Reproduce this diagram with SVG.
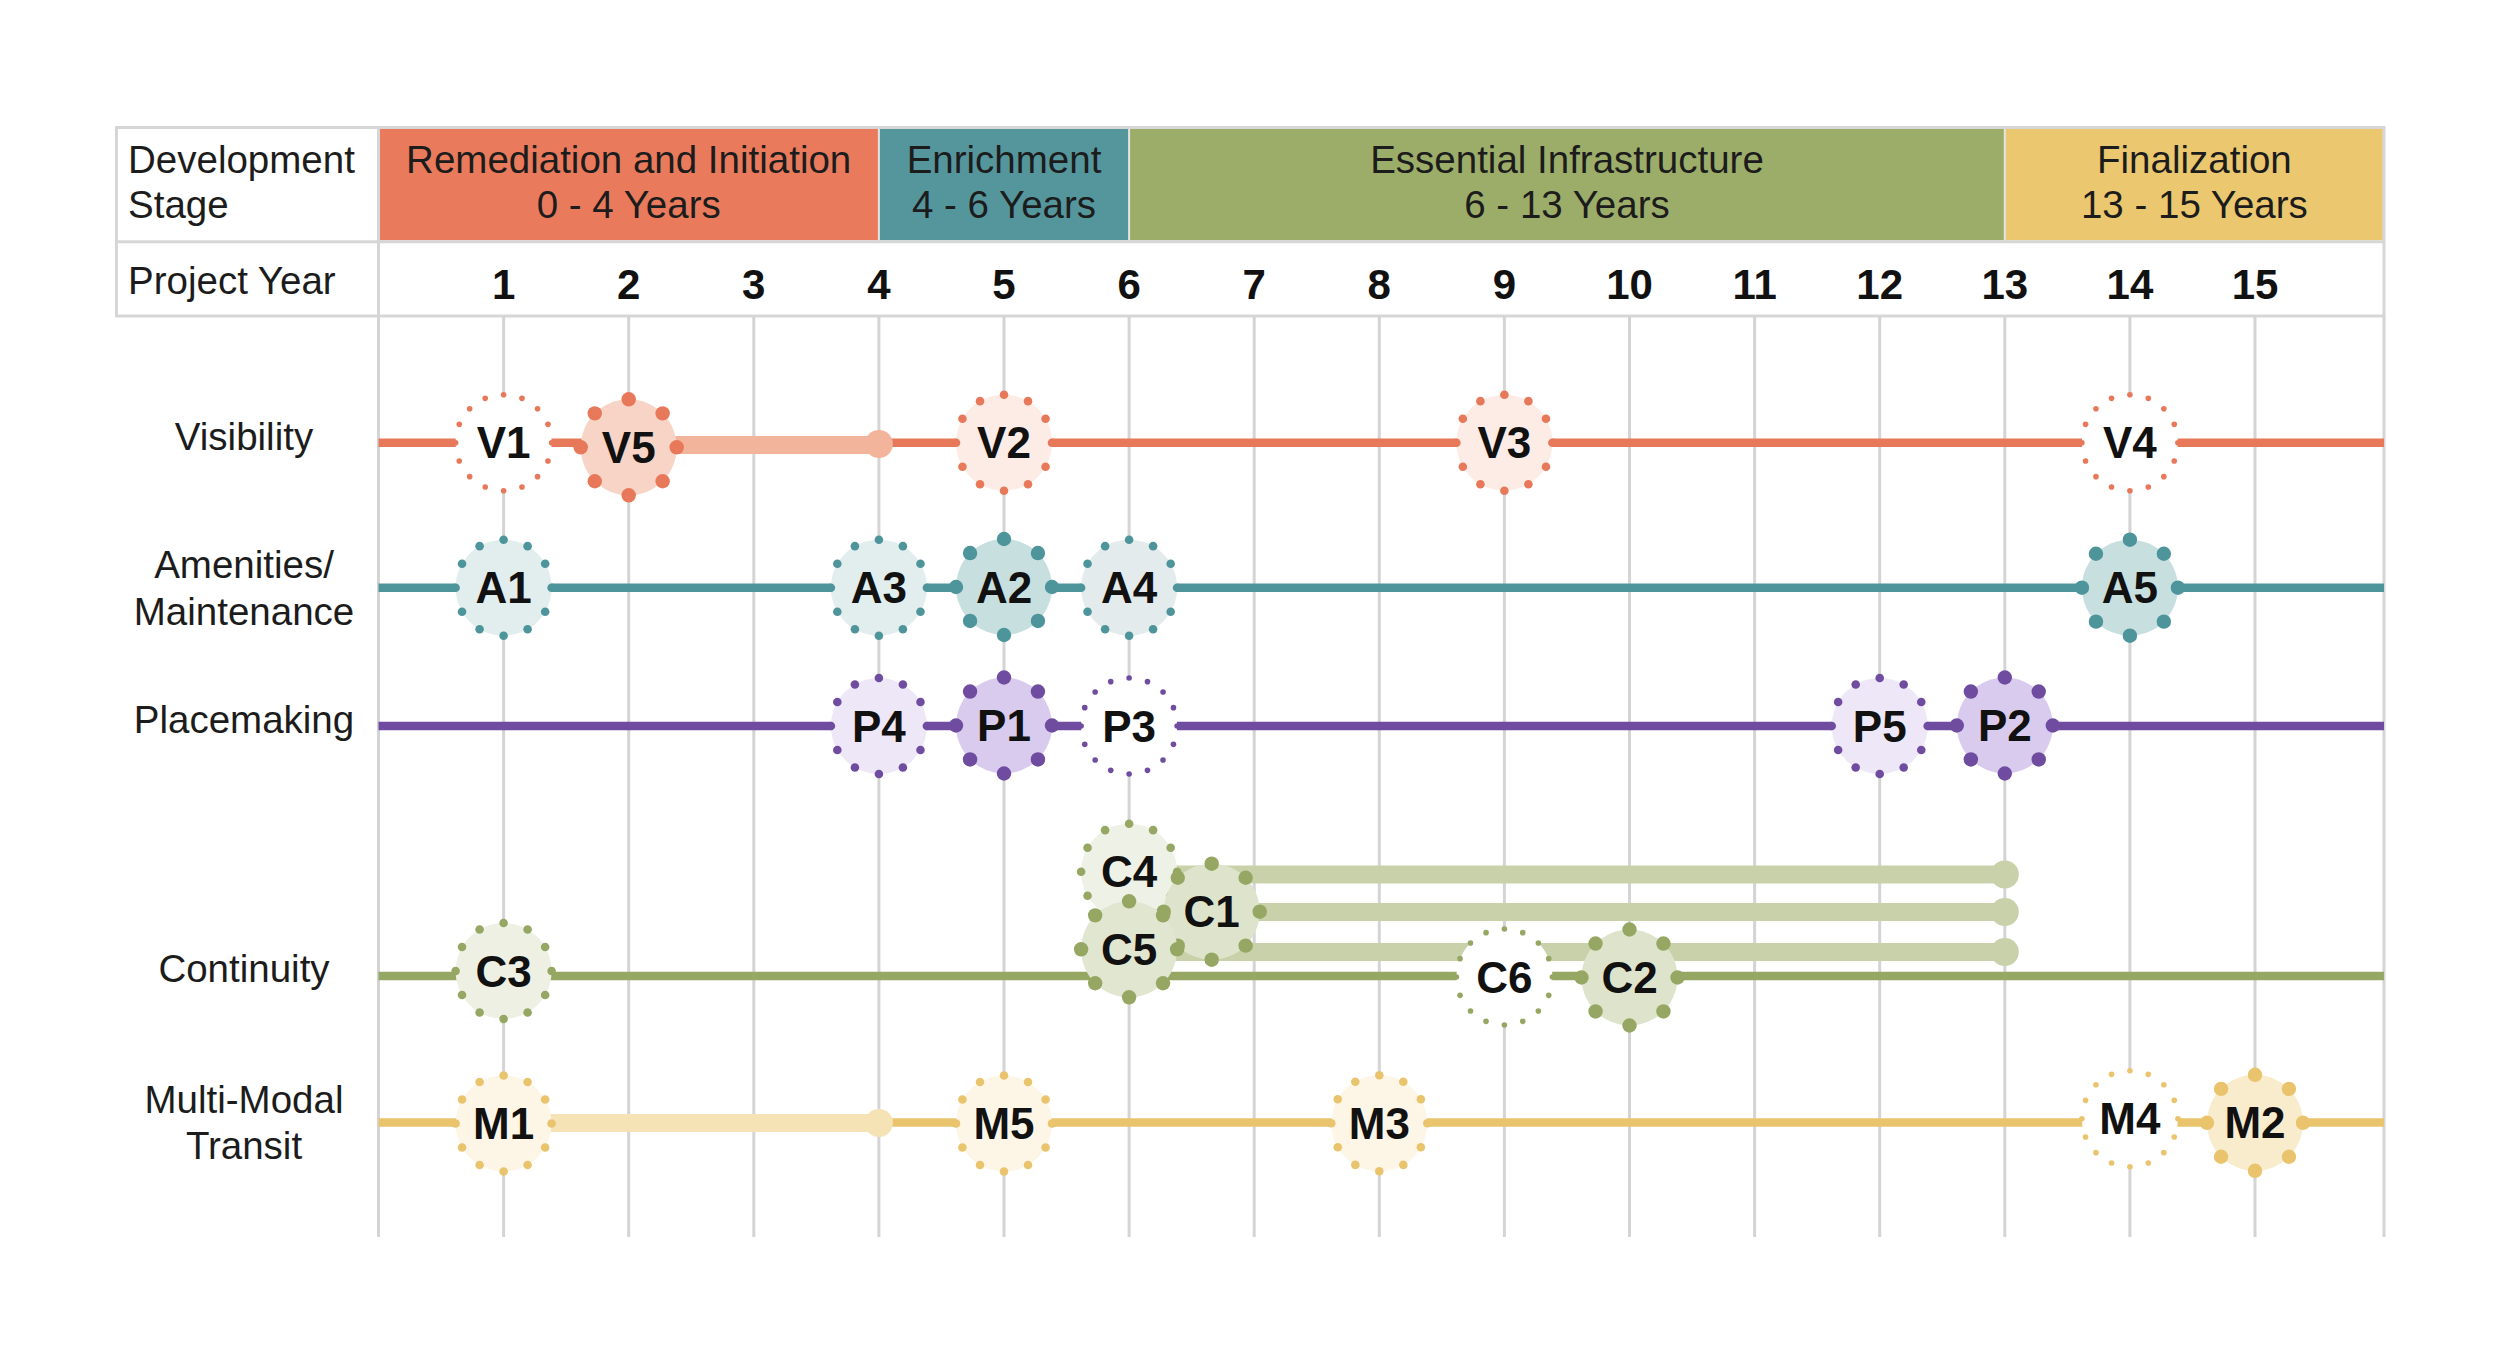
<svg xmlns="http://www.w3.org/2000/svg" width="2500" height="1364" viewBox="0 0 2500 1364">
<style>
.hdr{font-family:"Liberation Sans",Arial,sans-serif;font-size:38.5px;fill:#1c1c1c}
.mid{text-anchor:middle}
.yr{font-family:"Liberation Sans",Arial,sans-serif;font-size:42px;font-weight:bold;fill:#111;text-anchor:middle}
.lbl{font-family:"Liberation Sans",Arial,sans-serif;font-size:44px;font-weight:bold;fill:#111;text-anchor:middle}
.grid{stroke:#D4D4D4;stroke-width:3;fill:none}
.trk{stroke-width:8.5;fill:none}
.band{stroke-width:18;fill:none}
</style>
<defs>
<g id="d16">
<circle cx="0" cy="-48" r="2.8"/><circle cx="18.37" cy="-44.35" r="2.8"/><circle cx="33.94" cy="-33.94" r="2.8"/><circle cx="44.35" cy="-18.37" r="2.8"/>
<circle cx="48" cy="0" r="2.8"/><circle cx="44.35" cy="18.37" r="2.8"/><circle cx="33.94" cy="33.94" r="2.8"/><circle cx="18.37" cy="44.35" r="2.8"/>
<circle cx="0" cy="48" r="2.8"/><circle cx="-18.37" cy="44.35" r="2.8"/><circle cx="-33.94" cy="33.94" r="2.8"/><circle cx="-44.35" cy="18.37" r="2.8"/>
<circle cx="-48" cy="0" r="2.8"/><circle cx="-44.35" cy="-18.37" r="2.8"/><circle cx="-33.94" cy="-33.94" r="2.8"/><circle cx="-18.37" cy="-44.35" r="2.8"/>
</g>
<g id="d12">
<circle cx="0" cy="-48" r="4.3"/><circle cx="24" cy="-41.57" r="4.3"/><circle cx="41.57" cy="-24" r="4.3"/><circle cx="48" cy="0" r="4.3"/>
<circle cx="41.57" cy="24" r="4.3"/><circle cx="24" cy="41.57" r="4.3"/><circle cx="0" cy="48" r="4.3"/><circle cx="-24" cy="41.57" r="4.3"/>
<circle cx="-41.57" cy="24" r="4.3"/><circle cx="-48" cy="0" r="4.3"/><circle cx="-41.57" cy="-24" r="4.3"/><circle cx="-24" cy="-41.57" r="4.3"/>
</g>
<g id="d8">
<circle cx="0" cy="-48" r="7.2"/><circle cx="33.94" cy="-33.94" r="7.2"/><circle cx="48" cy="0" r="7.2"/><circle cx="33.94" cy="33.94" r="7.2"/>
<circle cx="0" cy="48" r="7.2"/><circle cx="-33.94" cy="33.94" r="7.2"/><circle cx="-48" cy="0" r="7.2"/><circle cx="-33.94" cy="-33.94" r="7.2"/>
</g>
</defs>
<rect width="2500" height="1364" fill="#fff"/>

<!-- header table -->
<g id="header">
<rect x="380" y="129" width="498.9" height="111.3" fill="#E97B5C"/>
<rect x="878.9" y="129" width="250.2" height="111.3" fill="#55969C"/>
<rect x="1129.1" y="129" width="875.7" height="111.3" fill="#9CAD6A"/>
<rect x="2004.8" y="129" width="378" height="111.3" fill="#EBC86F"/>
<line x1="878.9" y1="129" x2="878.9" y2="240.3" stroke="#E4E4E4" stroke-width="2"/>
<line x1="1129.1" y1="129" x2="1129.1" y2="240.3" stroke="#E4E4E4" stroke-width="2"/>
<line x1="2004.8" y1="129" x2="2004.8" y2="240.3" stroke="#E4E4E4" stroke-width="2"/>
<rect x="116.5" y="127.5" width="2267.5" height="188.5" fill="none" stroke="#D6D6D6" stroke-width="3"/>
<line x1="116.5" y1="241.8" x2="2384" y2="241.8" stroke="#D6D6D6" stroke-width="3"/>
<line x1="378.5" y1="127.5" x2="378.5" y2="316" stroke="#D6D6D6" stroke-width="3"/>
<text class="hdr" x="128" y="172.7">Development</text>
<text class="hdr" x="128" y="217.7">Stage</text>
<text class="hdr" x="128" y="294.3">Project Year</text>
<text class="hdr mid" x="628.7" y="172.7">Remediation and Initiation</text>
<text class="hdr mid" x="628.7" y="217.7">0 - 4 Years</text>
<text class="hdr mid" x="1004" y="172.7">Enrichment</text>
<text class="hdr mid" x="1004" y="217.7">4 - 6 Years</text>
<text class="hdr mid" x="1567" y="172.7">Essential Infrastructure</text>
<text class="hdr mid" x="1567" y="217.7">6 - 13 Years</text>
<text class="hdr mid" x="2194.4" y="172.7">Finalization</text>
<text class="hdr mid" x="2194.4" y="217.7">13 - 15 Years</text>
<text class="yr" x="503.6" y="299">1</text>
<text class="yr" x="628.7" y="299">2</text>
<text class="yr" x="753.8" y="299">3</text>
<text class="yr" x="878.9" y="299">4</text>
<text class="yr" x="1004" y="299">5</text>
<text class="yr" x="1129.1" y="299">6</text>
<text class="yr" x="1254.2" y="299">7</text>
<text class="yr" x="1379.3" y="299">8</text>
<text class="yr" x="1504.4" y="299">9</text>
<text class="yr" x="1629.5" y="299">10</text>
<text class="yr" x="1754.6" y="299">11</text>
<text class="yr" x="1879.7" y="299">12</text>
<text class="yr" x="2004.8" y="299">13</text>
<text class="yr" x="2129.9" y="299">14</text>
<text class="yr" x="2255" y="299">15</text>
</g>

<!-- grid -->
<g id="grid" class="grid">
<line x1="378.5" y1="316" x2="378.5" y2="1237"/>
<line x1="503.6" y1="316" x2="503.6" y2="1237"/>
<line x1="628.7" y1="316" x2="628.7" y2="1237"/>
<line x1="753.8" y1="316" x2="753.8" y2="1237"/>
<line x1="878.9" y1="316" x2="878.9" y2="1237"/>
<line x1="1004" y1="316" x2="1004" y2="1237"/>
<line x1="1129.1" y1="316" x2="1129.1" y2="1237"/>
<line x1="1254.2" y1="316" x2="1254.2" y2="1237"/>
<line x1="1379.3" y1="316" x2="1379.3" y2="1237"/>
<line x1="1504.4" y1="316" x2="1504.4" y2="1237"/>
<line x1="1629.5" y1="316" x2="1629.5" y2="1237"/>
<line x1="1754.6" y1="316" x2="1754.6" y2="1237"/>
<line x1="1879.7" y1="316" x2="1879.7" y2="1237"/>
<line x1="2004.8" y1="316" x2="2004.8" y2="1237"/>
<line x1="2129.9" y1="316" x2="2129.9" y2="1237"/>
<line x1="2255" y1="316" x2="2255" y2="1237"/>
<line x1="2384" y1="316" x2="2384" y2="1237"/>
</g>

<!-- row labels -->
<g id="rowlabels" class="hdr mid">
<text x="244" y="450">Visibility</text>
<text x="244" y="578">Amenities/</text>
<text x="244" y="625">Maintenance</text>
<text x="244" y="733">Placemaking</text>
<text x="244" y="982">Continuity</text>
<text x="244" y="1113">Multi-Modal</text>
<text x="244" y="1159">Transit</text>
</g>

<!-- connectors -->
<g id="connectors">
<line class="trk" x1="378.5" y1="442.7" x2="2384" y2="442.7" stroke="#E8785A"/>
<line class="trk" x1="378.5" y1="587.7" x2="2384" y2="587.7" stroke="#4E959B"/>
<line class="trk" x1="378.5" y1="726" x2="2384" y2="726" stroke="#704CA0"/>
<line class="trk" x1="378.5" y1="976" x2="2384" y2="976" stroke="#95A763"/>
<line class="trk" x1="378.5" y1="1122.5" x2="2384" y2="1122.5" stroke="#EAC46D"/>
<g stroke="#F2B49B" fill="#F2B49B">
<line class="band" x1="628.7" y1="445" x2="878.9" y2="445"/>
<circle cx="878.9" cy="444" r="14" stroke="none"/>
</g>
<g stroke="#F5E3B5" fill="#F5E3B5">
<line class="band" x1="503.6" y1="1123" x2="878.9" y2="1123"/>
<circle cx="878.9" cy="1123" r="14" stroke="none"/>
</g>
<g stroke="#C9D1AA" fill="#C9D1AA">
<line class="band" x1="1129.1" y1="874.5" x2="2004.8" y2="874.5"/>
<circle cx="2004.8" cy="874.5" r="14" stroke="none"/>
<line class="band" x1="1211.7" y1="912" x2="2004.8" y2="912"/>
<circle cx="2004.8" cy="912" r="14" stroke="none"/>
<line class="band" x1="1129.1" y1="952" x2="2004.8" y2="952"/>
<circle cx="2004.8" cy="952" r="14" stroke="none"/>
</g>
</g>

<!-- Visibility nodes -->
<g id="V1"><circle cx="503.6" cy="442.7" r="48" fill="#fff"/><use href="#d16" x="503.6" y="442.7" fill="#E8785A"/><text class="lbl" x="503.6" y="458.2">V1</text></g>
<g id="V5"><circle cx="628.7" cy="447.3" r="48" fill="#F8D4C6"/><use href="#d8" x="628.7" y="447.3" fill="#E8785A"/><text class="lbl" x="628.7" y="462.8">V5</text></g>
<g id="V2"><circle cx="1004" cy="442.7" r="48" fill="#FDECE5"/><use href="#d12" x="1004" y="442.7" fill="#E8785A"/><text class="lbl" x="1004" y="458.2">V2</text></g>
<g id="V3"><circle cx="1504.4" cy="442.7" r="48" fill="#FDECE5"/><use href="#d12" x="1504.4" y="442.7" fill="#E8785A"/><text class="lbl" x="1504.4" y="458.2">V3</text></g>
<g id="V4"><circle cx="2129.9" cy="442.7" r="48" fill="#fff"/><use href="#d16" x="2129.9" y="442.7" fill="#E8785A"/><text class="lbl" x="2129.9" y="458.2">V4</text></g>

<!-- Amenities nodes -->
<g id="A1"><circle cx="503.6" cy="587.7" r="48" fill="#E2EDEE"/><use href="#d12" x="503.6" y="587.7" fill="#4E959B"/><text class="lbl" x="503.6" y="603.2">A1</text></g>
<g id="A3"><circle cx="878.9" cy="587.7" r="48" fill="#E2EDEE"/><use href="#d12" x="878.9" y="587.7" fill="#4E959B"/><text class="lbl" x="878.9" y="603.2">A3</text></g>
<g id="A2"><circle cx="1004" cy="587" r="48" fill="#C8DFE0"/><use href="#d8" x="1004" y="587" fill="#4E959B"/><text class="lbl" x="1004" y="602.5">A2</text></g>
<g id="A4"><circle cx="1129.1" cy="587.7" r="48" fill="#E3EBEC"/><use href="#d12" x="1129.1" y="587.7" fill="#4E959B"/><text class="lbl" x="1129.1" y="603.2">A4</text></g>
<g id="A5"><circle cx="2129.9" cy="587.7" r="48" fill="#C8DFE0"/><use href="#d8" x="2129.9" y="587.7" fill="#4E959B"/><text class="lbl" x="2129.9" y="603.2">A5</text></g>

<!-- Placemaking nodes -->
<g id="P4"><circle cx="878.9" cy="726" r="48" fill="#EEE7F7"/><use href="#d12" x="878.9" y="726" fill="#704CA0"/><text class="lbl" x="878.9" y="741.5">P4</text></g>
<g id="P1"><circle cx="1004" cy="725.5" r="48" fill="#D9CBEE"/><use href="#d8" x="1004" y="725.5" fill="#704CA0"/><text class="lbl" x="1004" y="741">P1</text></g>
<g id="P3"><circle cx="1129.1" cy="726" r="48" fill="#fff"/><use href="#d16" x="1129.1" y="726" fill="#704CA0"/><text class="lbl" x="1129.1" y="741.5">P3</text></g>
<g id="P5"><circle cx="1879.7" cy="726" r="48" fill="#EEE7F7"/><use href="#d12" x="1879.7" y="726" fill="#704CA0"/><text class="lbl" x="1879.7" y="741.5">P5</text></g>
<g id="P2"><circle cx="2004.8" cy="725.5" r="48" fill="#D9CBEE"/><use href="#d8" x="2004.8" y="725.5" fill="#704CA0"/><text class="lbl" x="2004.8" y="741">P2</text></g>

<!-- Continuity nodes -->
<g id="C3"><circle cx="503.6" cy="971" r="48" fill="#EDF0E3"/><use href="#d12" x="503.6" y="971" fill="#95A763"/><text class="lbl" x="503.6" y="986.5">C3</text></g>
<g id="C4"><circle cx="1129.1" cy="871.7" r="48" fill="#EEF1E6"/><use href="#d12" x="1129.1" y="871.7" fill="#95A763"/><text class="lbl" x="1129.1" y="887.2">C4</text></g>
<g id="C1"><circle cx="1211.7" cy="911.7" r="48" fill="#DEE4CB"/><use href="#d8" x="1211.7" y="911.7" fill="#95A763"/><text class="lbl" x="1211.7" y="927.2">C1</text></g>
<g id="C5"><circle cx="1129.1" cy="949.3" r="48" fill="#E1E6D0"/><use href="#d8" x="1129.1" y="949.3" fill="#95A763"/><text class="lbl" x="1129.1" y="964.8">C5</text></g>
<g id="C6"><circle cx="1504.4" cy="977" r="48" fill="#fff"/><use href="#d16" x="1504.4" y="977" fill="#95A763"/><text class="lbl" x="1504.4" y="992.5">C6</text></g>
<g id="C2"><circle cx="1629.5" cy="977.5" r="48" fill="#DEE4CB"/><use href="#d8" x="1629.5" y="977.5" fill="#95A763"/><text class="lbl" x="1629.5" y="993">C2</text></g>

<!-- Multi-Modal nodes -->
<g id="M1"><circle cx="503.6" cy="1123.5" r="48" fill="#FDF6E7"/><use href="#d12" x="503.6" y="1123.5" fill="#EAC46D"/><text class="lbl" x="503.6" y="1139">M1</text></g>
<g id="M5"><circle cx="1004" cy="1123.5" r="48" fill="#FDF6E7"/><use href="#d12" x="1004" y="1123.5" fill="#EAC46D"/><text class="lbl" x="1004" y="1139">M5</text></g>
<g id="M3"><circle cx="1379.3" cy="1123.3" r="48" fill="#FDF6E7"/><use href="#d12" x="1379.3" y="1123.3" fill="#EAC46D"/><text class="lbl" x="1379.3" y="1138.8">M3</text></g>
<g id="M4"><circle cx="2129.9" cy="1118.7" r="48" fill="#fff"/><use href="#d16" x="2129.9" y="1118.7" fill="#EAC46D"/><text class="lbl" x="2129.9" y="1134.2">M4</text></g>
<g id="M2"><circle cx="2255" cy="1122.8" r="48" fill="#F8ECCD"/><use href="#d8" x="2255" y="1122.8" fill="#EAC46D"/><text class="lbl" x="2255" y="1138.3">M2</text></g>
</svg>
